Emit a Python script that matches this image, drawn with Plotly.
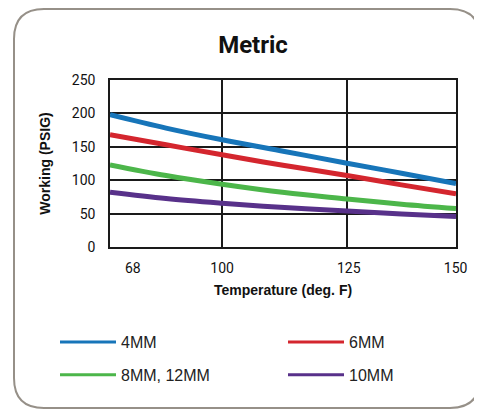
import numpy as np
import plotly.graph_objects as go

# temperatures (deg F) at which the curves are read, incl. mid-points
temps = [68, 84, 100, 112.5, 125, 137.5, 150]

psig_4mm = [198, 178, 160.5, 143, 125.5, 110.5, 95]
psig_6mm = [168, 153, 138, 122, 107, 93, 79.5]
psig_8_12mm = [123, 107, 94, 81.5, 72, 64, 57.5]
psig_10mm = [82, 72.5, 65.5, 59, 54, 49.5, 45.5]

tick_temps = [68, 100, 125, 150]
grid_temps = [100, 125]

# name, values, colour, legend column
series = [
    ('4MM', psig_4mm, 'rgb(23,117,185)', 'legend'),
    ('6MM', psig_6mm, 'rgb(212,38,46)', 'legend2'),
    ('8MM, 12MM', psig_8_12mm, 'rgb(76,182,74)', 'legend'),
    ('10MM', psig_10mm, 'rgb(88,49,138)', 'legend2'),
]

# the original drawing spaces its temperatures unevenly, so map them onto
# the horizontal position they occupy in the plot (0 = left, 1 = right)
AXIS_TEMPS = [68, 100, 125, 150]
AXIS_POS = [0.0, 0.324, 0.685, 1.0]
LABEL_POS = {68: 0.066, 100: 0.324, 125: 0.69, 150: 0.999}


def pos(t):
    return np.interp(t, AXIS_TEMPS, AXIS_POS)


# page body has an 8px margin, so everything here is in figure pixels
W, H = 482, 409
L, R, T, B = 102, 34, 72, 170
pw, ph = W - L - R, H - T - B

fig = go.Figure()
for name, vals, color, leg in series:
    fig.add_trace(go.Scatter(
        x=pos(temps), y=vals, mode='lines', showlegend=False,
        line=dict(color=color, width=5, shape='spline'),
        hoverinfo='skip'))
for name, vals, color, leg in series:
    # thinner copies only for the legend keys
    fig.add_trace(go.Scatter(
        x=[None], y=[None], mode='lines', name=name, legend=leg,
        legendgroup=name, line=dict(color=color, width=3)))


def px(x):
    return (x - L) / pw


def py(y):
    return (H - B - y) / ph


# rounded frame around the whole chart
x0, x1, y0, y1, r = 6, 472, 1, 400, 30
frame = (f"M {px(x0 + r)},{py(y0)} L {px(x1 - r)},{py(y0)} "
         f"Q {px(x1)},{py(y0)} {px(x1)},{py(y0 + r)} "
         f"L {px(x1)},{py(y1 - r)} Q {px(x1)},{py(y1)} {px(x1 - r)},{py(y1)} "
         f"L {px(x0 + r)},{py(y1)} Q {px(x0)},{py(y1)} {px(x0)},{py(y1 - r)} "
         f"L {px(x0)},{py(y0 + r)} Q {px(x0)},{py(y0)} {px(x0 + r)},{py(y0)} Z")

legend_style = dict(
    orientation='v', xanchor='left', yanchor='top', y=py(317),
    itemwidth=56, tracegroupgap=9, bgcolor='rgba(0,0,0,0)',
    font=dict(family='Liberation Sans, Arial, sans-serif', size=16, color='#222'))

fig.update_layout(
    autosize=False,
    width=W,
    height=H,
    margin=dict(l=L, r=R, t=T, b=B, autoexpand=False),
    plot_bgcolor='white',
    paper_bgcolor='white',
    title=dict(text='<b>Metric</b>', x=245 / W, xanchor='center',
               y=1 - 37 / H, yanchor='middle',
               font=dict(family='Roboto, Arial, sans-serif', size=24, color='#111')),
    shapes=[dict(type='path', xref='paper', yref='paper', path=frame,
                 line=dict(color='rgb(150,144,136)', width=2), layer='below')],
    legend=dict(x=px(47), **legend_style),
    legend2=dict(x=px(275), **legend_style),
)

fig.update_xaxes(
    range=[0, 1],
    tickvals=[LABEL_POS[t] for t in tick_temps],
    ticktext=[str(t) for t in tick_temps],
    ticks='', ticklabelstandoff=7,
    showgrid=False,
    minor=dict(tickvals=list(pos(grid_temps)), showgrid=True,
               gridcolor='#1a1a1a', gridwidth=1.5, ticks=''),
    showline=True, mirror=True, linecolor='#1a1a1a', linewidth=1.5,
    zeroline=False,
    tickfont=dict(family='Liberation Sans Narrow, Roboto, sans-serif', size=14, color='#111'),
    title=dict(text='<b>Temperature (deg. F)</b>', standoff=11,
               font=dict(family='Liberation Sans, Arial, sans-serif', size=14, color='#111')),
)
fig.update_yaxes(
    range=[0, 250],
    tickvals=[0, 50, 100, 150, 200, 250],
    ticks='', ticklabelstandoff=10,
    showgrid=True, gridcolor='#1a1a1a', gridwidth=1.5,
    showline=True, mirror=True, linecolor='#1a1a1a', linewidth=1.5,
    zeroline=False,
    tickfont=dict(family='Liberation Sans Narrow, Roboto, sans-serif', size=14, color='#111'),
    title=dict(text='<b>Working (PSIG)</b>', standoff=18,
               font=dict(family='Liberation Sans, Arial, sans-serif', size=14, color='#111')),
)

fig.write_html('out.html')
